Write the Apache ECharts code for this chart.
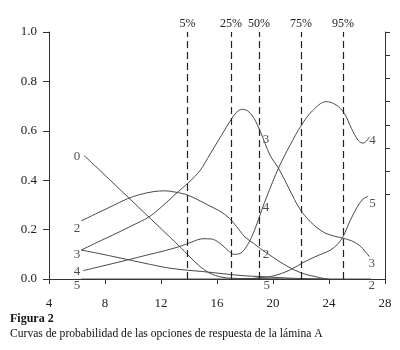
<!DOCTYPE html>
<html>
<head>
<meta charset="utf-8">
<script src="https://cdn.jsdelivr.net/npm/echarts@6/dist/echarts.min.js"></script>
<style>
  html, body { margin: 0; padding: 0; background: #fff; }
  #main { width: 400px; height: 350px; }
</style>
</head>
<body>
<div id="main"></div>
<script>
// curvas de probabilidad de las opciones (lámina A)

var xTicks = [4, 28, 4]; // min, max, interval
var yLabels = ['0.0', '0.2', '0.4', '0.6', '0.8', '1.0'];

var opt0 = [[6.5, 0.5], [7.5, 0.447], [8.5, 0.393], [9.5, 0.339], [10.5, 0.285], [11.5, 0.231], [12.5, 0.177],
    [13.4, 0.128], [14, 0.093], [14.8, 0.05], [15.5, 0.023], [16.3, 0.008], [17, 0.003], [18, 0.002], [20, 0.001], [22, 0], [24, 0]];
var opt1 = [[6.3, 0.117], [7.5, 0.104], [9, 0.086], [10.5, 0.068], [12, 0.05], [13, 0.041], [14, 0.035], [15, 0.03],
    [16, 0.024], [17, 0.018], [18, 0.013], [19, 0.01], [20, 0.007], [21, 0.004], [22, 0.002], [23.6, 0]];
var opt2 = [[6.3, 0.235], [7.5, 0.268], [8.5, 0.295], [9.6, 0.325], [10.5, 0.342], [11.5, 0.354], [12.3, 0.357], [13, 0.352],
    [13.9, 0.34], [14.8, 0.316], [15.5, 0.295], [16.2, 0.275], [16.9, 0.245], [17.4, 0.212], [18, 0.17], [18.6, 0.145],
    [19.1, 0.123], [20, 0.088], [21, 0.052], [22, 0.025], [23, 0.01], [24, 0], [27, 0]];
var opt3 = [[6.3, 0.117], [7.5, 0.15], [9, 0.19], [10, 0.218], [11.1, 0.25], [12, 0.29], [13, 0.342], [14, 0.392], [14.8, 0.44],
    [15.5, 0.505], [16.3, 0.58], [17, 0.645], [17.4, 0.675], [17.8, 0.687], [18.2, 0.68], [18.6, 0.655], [19.1, 0.596],
    [19.8, 0.5], [20.4, 0.448], [21.2, 0.36], [21.9, 0.285], [22.7, 0.23], [23.6, 0.19], [24.3, 0.175], [25, 0.165],
    [25.6, 0.155], [26.2, 0.135], [26.6, 0.11], [26.9, 0.09]];
var opt4 = [[6.45, 0.034], [8, 0.055], [9.6, 0.077], [11, 0.097], [12.3, 0.115], [13.4, 0.133], [14.2, 0.15], [15, 0.163],
    [15.6, 0.162], [16.2, 0.145], [16.8, 0.115], [17.2, 0.1], [17.7, 0.105], [18.2, 0.14], [18.7, 0.2], [19.2, 0.28],
    [19.6, 0.34], [20.4, 0.45], [21.2, 0.54], [22, 0.62], [22.8, 0.68], [23.8, 0.718], [24.5, 0.705], [25.1, 0.67],
    [25.6, 0.61], [26.1, 0.56], [26.45, 0.55], [26.9, 0.576]];
var opt5 = [[6.3, 0], [18, 0], [19, 0.005], [20, 0.012], [21.2, 0.036], [22.1, 0.065], [23, 0.09], [24.1, 0.117],
    [24.6, 0.14], [25, 0.171], [25.5, 0.235], [26, 0.29], [26.4, 0.322], [26.8, 0.335]];

// etiquetas de las curvas [x, y, texto]
var curveLabels = [[6.0, 0.494, '0'], [6.0, 0.206, '2'], [6.0, 0.097, '3'], [6.0, 0.032, '4'], [6.0, -0.028, '5'],
    [19.5, 0.565, '3'], [19.5, 0.29, '4'], [19.5, 0.097, '2'], [19.55, -0.028, '5'],
    [27.1, 0.56, '4'], [27.1, 0.306, '5'], [27.05, 0.064, '3'], [27.05, -0.028, '2']];

// percentiles
var pctValues = [13.9, 17, 19, 22, 25];
var pctLabels = ['5%', '25%', '50%', '75%', '95%'];

// marcas del eje derecho
var rightTicks = [1.0, 0.906, 0.812, 0.718, 0.624, 0.530, 0.436, 0.342];

var serif = 'Liberation Serif';
var ink = '#222';
var curveColor = '#4a4a4a';

function curve(data) {
    return {
        type: 'line',
        data: data,
        smooth: 0.35,
        symbol: 'none',
        lineStyle: { color: curveColor, width: 1 },
        silent: true,
        z: 3
    };
}

var myChart = echarts.init(document.getElementById('main'));

var option = {
    animation: false,
    backgroundColor: '#fff',
    title: {
        text: 'Figura 2',
        subtext: 'Curvas de probabilidad de las opciones de respuesta de la lámina A',
        left: 6,
        top: 313,
        itemGap: 3,
        padding: [0, 4],
        textStyle: { fontFamily: serif, fontSize: 12, fontWeight: 'bold', color: '#111' },
        subtextStyle: { fontFamily: serif, fontSize: 11.6, color: '#111' }
    },
    grid: {
        left: 49,
        right: 15,
        top: 32,
        bottom: 71
    },
    xAxis: [
        {
            type: 'value',
            min: xTicks[0],
            max: xTicks[1],
            interval: xTicks[2],
            position: 'bottom',
            splitLine: { show: false },
            axisLine: { lineStyle: { color: '#333', width: 1 } },
            axisTick: { length: 5, lineStyle: { color: '#333' } },
            axisLabel: { margin: 18, color: ink, fontFamily: serif, fontSize: 13 }
        },
        {
            type: 'value',
            min: xTicks[0],
            max: xTicks[1],
            position: 'top',
            splitLine: { show: false },
            axisLine: { lineStyle: { color: '#333', width: 1 } },
            axisTick: { show: false },
            axisLabel: { show: false }
        }
    ],
    yAxis: [
        {
            type: 'value',
            min: 0,
            max: 1,
            interval: 0.2,
            position: 'left',
            splitLine: { show: false },
            axisLine: { show: true, lineStyle: { color: '#333', width: 1 } },
            axisTick: { show: true, length: 6, lineStyle: { color: '#333' } },
            axisLabel: {
                margin: 12,
                color: ink,
                fontFamily: serif,
                fontSize: 13,
                formatter: function (v) {
                    return yLabels[Math.round(v / 0.2)];
                }
            }
        },
        {
            type: 'value',
            min: 0,
            max: 1,
            position: 'right',
            splitLine: { show: false },
            axisLine: { show: true, lineStyle: { color: '#333', width: 1 } },
            axisTick: { show: true, length: 5, customValues: rightTicks, lineStyle: { color: '#333' } },
            axisLabel: { show: false }
        }
    ],
    series: [
        curve(opt0),
        curve(opt1),
        curve(opt2),
        curve(opt3),
        curve(opt4),
        curve(opt5),
        {
            type: 'scatter',
            data: curveLabels,
            symbolSize: 0,
            clip: false,
            silent: true,
            label: {
                show: true,
                position: 'inside',
                color: ink,
                fontFamily: serif,
                fontSize: 13,
                formatter: function (p) {
                    return p.data[2];
                }
            },
            markLine: {
                silent: true,
                symbol: 'none',
                lineStyle: { color: '#222', type: [7, 4], width: 1.2 },
                label: {
                    show: true,
                    position: 'end',
                    distance: 2,
                    color: ink,
                    fontFamily: serif,
                    fontSize: 12,
                    formatter: function (p) {
                        return pctLabels[p.dataIndex];
                    }
                },
                data: pctValues.map(function (v) {
                    return { xAxis: v };
                })
            }
        }
    ]
};

myChart.setOption(option);
</script>
</body>
</html>
